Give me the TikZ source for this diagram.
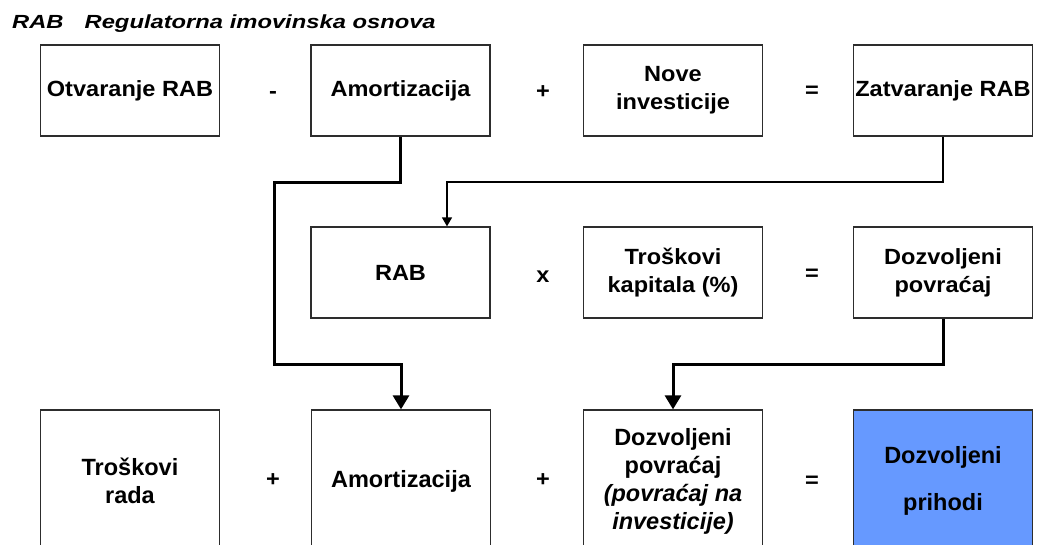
\documentclass[tikz,border=0pt]{standalone}
\usepackage{fontspec}
\setmainfont{Liberation Sans}
\newfontfamily\rowfont{Liberation Sans}[FakeStretch=1.07]
\newfontfamily\titlefont{Liberation Sans}[FakeStretch=1.25]
\usetikzlibrary{arrows.meta}
\definecolor{boxblue}{RGB}{102,153,255}
\definecolor{edgegray}{RGB}{45,45,45}
\begin{document}
\begin{tikzpicture}[x=1pt,y=-1pt,
  box/.style={draw=edgegray, line width=1.3pt, minimum width=179pt, minimum height=91pt,
    inner sep=0pt, align=center, font=\rowfont\bfseries\fontsize{22}{28}\selectfont},
  lowbox/.style={box, minimum height=142pt, font=\bfseries\fontsize{23.5}{28}\selectfont},
  op/.style={inner sep=0pt, font=\rowfont\bfseries\fontsize{22}{28}\selectfont},
  thickflow/.style={line width=3pt, -{Triangle[width=16pt,length=14pt]}},
  thinflow/.style={line width=1.5pt, -{Triangle[width=10pt,length=9pt]}},
]
\useasboundingbox (0,0) rectangle (1041,544);
\clip (0,0) rectangle (1041,544);

% title
\node[anchor=base west, inner sep=0pt, font=\titlefont\bfseries\itshape\fontsize{19}{22}\selectfont]
  (title) at (12,28) {RAB\hspace*{21pt}Regulatorna imovinska osnova};

% top row
\node[box] (otv)   at (130,90.5)   {Otvaranje RAB};
\node[box] (amort1) at (400.5,90.5) {Amortizacija};
\node[box] (nove)  at (673,90.5)   {Nove\\investicije};
\node[box] (zat)   at (943,90.5)   {Zatvaranje RAB};
\node[op] (o1) at (273,95) {-};
\node[op] (o2) at (543,92) {+};
\node[op] (o3) at (812,92) {=};

% middle row
\node[box] (rab)  at (400.5,272.5) {RAB};
\node[box] (trk)  at (673,272.5)   {Troškovi\\kapitala (\%)};
\node[box] (povr) at (943,272.5)   {Dozvoljeni\\povraćaj};
\node[op] (o4) at (543,277) {x};
\node[op] (o5) at (812,275) {=};

% bottom row
\node[lowbox] (trad)   at (130,481)   {Troškovi\\rada};
\node[lowbox] (amort3) at (401,481)   {Amortizacija};
\node[lowbox] (dozpov) at (673,481)   {Dozvoljeni\\povraćaj\\\itshape(povraćaj na\\\itshape investicije)};
\node[lowbox, fill=boxblue] (prih) at (943,481) {Dozvoljeni\\[19pt]prihodi};
\node[op] (o6) at (273,480) {+};
\node[op] (o7) at (543,480) {+};
\node[op] (o8) at (812,482) {=};

% connectors
\coordinate (a1) at (274,182);
\coordinate (a2) at (274,364);
\draw[thickflow] (amort1.south) |- (a1) -- (a2) -| (amort3.north);

\coordinate (b1) at (447,182);
\draw[thinflow] (zat.south) |- (b1) -- (rab.north -| b1);

\coordinate (c1) at (673,364);
\draw[thickflow] (povr.south) |- (c1) -- (dozpov.north);
\end{tikzpicture}
\end{document}
